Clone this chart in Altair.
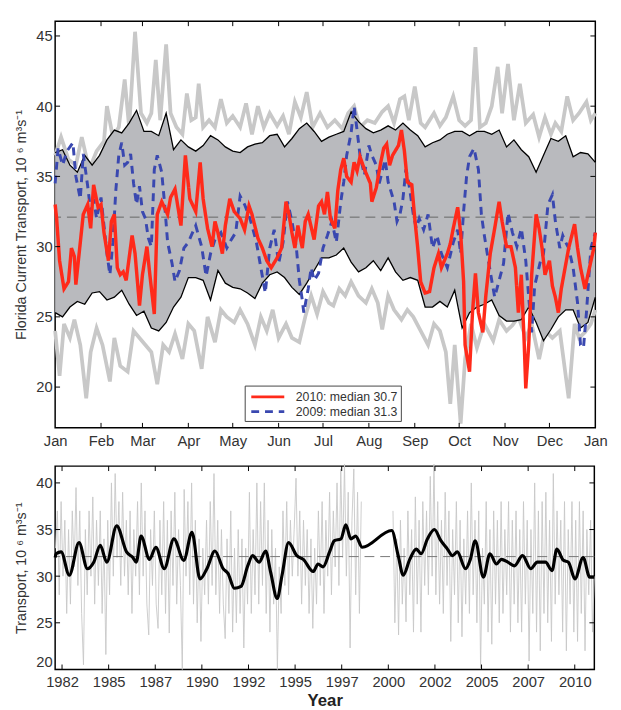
import altair as alt
import pandas as pd

# ---------------- axis / label data ----------------
MONTH_LABELS = ["Jan", "Feb", "Mar", "Apr", "May", "Jun", "Jul", "Aug", "Sep", "Oct", "Nov", "Dec", "Jan"]
MONTH_STARTS = [0, 31, 59, 90, 120, 151, 181, 212, 243, 273, 304, 334, 365]
TOP_YTICKS = [20, 25, 30, 35, 40, 45]
BOTTOM_YTICKS = [20, 25, 30, 35, 40]
YEAR_TICKS = [1982.5, 1985, 1987.5, 1990, 1992.5, 1995, 1997.5, 2000, 2002.5, 2005, 2007.5, 2010]

S2010 = "2010: median 30.7"
S2009 = "2009: median 31.3"
LONGTERM_MEAN = 32.1

# ---------------- top panel: climatology (day of year) ----------------
BAND_DAYS = [0, 5, 10, 15, 20, 25, 30, 35, 40, 45, 50, 55, 60, 65, 70, 75, 80, 85, 90, 95,
             100, 105, 110, 115, 120, 125, 130, 135, 140, 145, 150, 155, 160, 165, 170, 175,
             180, 185, 190, 195, 200, 205, 210, 215, 220, 225, 230, 235, 240, 245, 250, 255,
             260, 265, 270, 275, 280, 285, 290, 295, 300, 305, 310, 315, 320, 325, 330, 335,
             340, 345, 350, 355, 360, 365]
UPPER_STD = [36.7, 36.9, 35.8, 35.3, 36.5, 35.8, 36.5, 37.6, 38.3, 38.1,
             38.8, 39.7, 38.2, 38.2, 37.9, 39.5, 36.9, 37.6, 37.1, 36.8,
             37.2, 37.9, 37.6, 37.1, 36.8, 36.7, 37.1, 37.3, 37.4, 37.9,
             38.0, 37.1, 37.7, 38.4, 38.8, 38.2, 37.5, 37.8, 38.0, 38.2,
             39.6, 38.9, 38.4, 38.1, 38.3, 38.6, 38.3, 38.8, 38.3, 37.9,
             37.1, 37.4, 37.6, 38.0, 38.2, 38.2, 37.9, 38.2, 38.2, 38.0,
             38.3, 37.1, 37.6, 36.9, 36.4, 35.3, 36.5, 37.7, 37.5, 37.9,
             36.4, 36.7, 36.6, 36.0]
LOWER_STD = [25.3, 25.0, 25.7, 26.1, 25.9, 26.7, 26.8, 26.2, 26.4, 26.9,
             25.9, 25.1, 25.4, 24.2, 24.0, 24.6, 25.7, 26.4, 27.8, 27.8,
             27.6, 26.2, 28.3, 27.4, 27.1, 27.0, 26.7, 26.3, 27.4, 28.0,
             28.2, 27.8, 27.1, 26.6, 27.4, 28.3, 29.2, 29.2, 29.4, 29.9,
             28.9, 28.2, 28.5, 29.0, 28.3, 29.2, 28.2, 27.6, 27.8, 27.6,
             25.7, 25.7, 26.1, 25.7, 26.9, 24.2, 25.3, 25.7, 25.9, 26.2,
             25.1, 24.7, 24.7, 24.8, 25.7, 24.6, 23.3, 24.1, 25.0, 25.5,
             25.5, 24.2, 24.6, 26.4]

DAILY_MAX = [(0, 36.5), (4, 37.8), (9, 36.2), (14, 35.8), (18, 37.8), (23, 35.5), (28, 36.8),
             (33, 37.5), (35, 40.0), (39, 37.8), (43, 38.5), (47, 41.9), (50, 38.5), (54, 45.3),
             (58, 39.5), (62, 38.8), (65, 39.5), (68, 43.3), (71, 39.0), (75, 44.4), (78, 39.5),
             (82, 38.5), (86, 38.0), (89, 40.9), (92, 39.0), (95, 39.2), (97, 41.6), (100, 38.5),
             (104, 39.0), (108, 38.5), (112, 40.5), (116, 38.8), (120, 39.3), (125, 38.5),
             (129, 40.2), (133, 38.0), (137, 40.0), (141, 38.5), (145, 39.5), (150, 38.6),
             (154, 39.3), (158, 38.0), (162, 40.3), (166, 39.2), (170, 41.0), (174, 38.5),
             (179, 39.5), (184, 38.5), (189, 39.0), (194, 38.4), (198, 39.5), (202, 40.0),
             (206, 38.5), (211, 39.0), (216, 38.8), (221, 39.6), (225, 40.0), (229, 38.8),
             (233, 40.5), (236, 40.7), (239, 39.0), (243, 41.4), (247, 38.8), (250, 38.5),
             (256, 39.5), (260, 38.6), (264, 39.2), (269, 40.7), (273, 39.0), (277, 38.6),
             (281, 39.0), (284, 44.2), (287, 38.5), (291, 38.8), (295, 40.0), (299, 42.8),
             (302, 39.5), (306, 43.0), (310, 39.0), (314, 41.6), (318, 38.8), (323, 39.4),
             (327, 37.8), (331, 39.2), (335, 38.0), (338, 38.8), (342, 38.2), (346, 40.7),
             (350, 39.0), (354, 39.5), (359, 40.3), (362, 39.0), (365, 39.5)]

DAILY_MIN = [(0, 24.0), (3, 20.8), (6, 24.5), (10, 23.5), (13, 24.8), (17, 23.0), (21, 19.2),
             (24, 22.5), (28, 24.2), (32, 23.0), (37, 20.4), (40, 23.5), (44, 21.5), (49, 21.1),
             (53, 24.0), (57, 23.5), (61, 23.0), (65, 22.5), (69, 20.2), (73, 23.0), (77, 22.5),
             (81, 23.8), (86, 22.0), (90, 24.5), (94, 24.0), (99, 21.3), (103, 25.0), (108, 23.2),
             (112, 25.5), (116, 25.0), (121, 24.6), (125, 25.5), (130, 24.5), (135, 23.0),
             (139, 25.0), (143, 24.0), (147, 25.5), (151, 23.5), (156, 24.5), (160, 23.5),
             (165, 23.2), (169, 25.0), (173, 26.5), (177, 25.2), (181, 26.8), (185, 26.0),
             (188, 25.8), (192, 27.0), (196, 26.5), (200, 27.5), (205, 26.5), (210, 26.0),
             (214, 27.0), (218, 26.0), (221, 24.1), (225, 26.5), (229, 25.5), (234, 24.8),
             (238, 25.5), (242, 25.0), (247, 24.0), (252, 23.0), (256, 24.5), (260, 24.0),
             (264, 22.5), (267, 18.8), (270, 23.0), (274, 17.4), (277, 22.0), (281, 24.5),
             (285, 22.8), (290, 24.5), (296, 23.3), (300, 24.8), (305, 24.0), (309, 24.4),
             (313, 25.0), (318, 23.5), (322, 24.5), (327, 22.0), (331, 24.0), (336, 23.5),
             (341, 24.0), (347, 19.2), (351, 24.5), (354, 23.5), (358, 23.9), (362, 24.5),
             (365, 25.5)]

Y2010 = [(0, 33.0), (1, 32.0), (3, 29.0), (6, 27.0), (9, 27.5), (11, 29.9), (13, 29.3), (14, 27.3),
         (17, 30.3), (19, 32.3), (22, 33.0), (24, 31.3), (26, 34.4), (29, 32.8), (31, 33.0),
         (33, 31.0), (36, 29.0), (38, 31.8), (40, 32.3), (42, 28.5), (44, 28.0), (46, 28.2),
         (48, 27.6), (52, 30.8), (54, 29.5), (57, 25.8), (59, 28.0), (62, 30.0), (64, 28.0),
         (67, 25.2), (69, 32.3), (72, 33.2), (76, 32.3), (78, 33.5), (81, 34.1), (85, 31.5),
         (88, 36.5), (91, 33.4), (95, 32.5), (98, 36.0), (100, 33.4), (103, 31.3), (106, 30.0),
         (108, 31.8), (110, 31.0), (113, 29.5), (115, 31.5), (118, 33.4), (121, 32.5),
         (125, 32.0), (128, 31.2), (131, 32.9), (133, 32.3), (137, 30.6), (140, 29.9),
         (143, 29.0), (146, 28.5), (150, 29.2), (153, 29.9), (156, 33.2), (158, 32.3),
         (160, 31.0), (162, 29.9), (164, 31.5), (167, 29.9), (169, 31.8), (171, 32.3),
         (173, 31.4), (175, 30.5), (178, 32.9), (180, 33.2), (182, 32.3), (184, 33.9),
         (186, 32.0), (189, 31.3), (191, 34.0), (193, 35.5), (195, 36.3), (197, 35.0),
         (200, 34.6), (202, 36.0), (204, 35.4), (206, 36.4), (209, 35.5), (213, 34.5),
         (214, 33.2), (217, 34.2), (220, 36.0), (222, 37.0), (224, 37.3), (226, 35.8),
         (228, 36.5), (232, 37.2), (234, 38.3), (236, 36.8), (238, 34.6), (241, 34.4),
         (243, 32.0), (245, 29.9), (247, 27.5), (250, 26.7), (253, 26.8), (256, 28.5),
         (259, 29.5), (261, 28.5), (263, 29.0), (265, 29.5), (267, 30.2), (269, 31.3),
         (272, 32.8), (274, 31.0), (276, 27.5), (277, 23.0), (280, 21.1), (282, 25.3),
         (284, 28.1), (286, 25.3), (289, 23.9), (291, 26.5), (294, 29.5), (297, 31.3),
         (300, 33.2), (302, 31.8), (305, 30.0), (308, 30.0), (311, 28.5), (313, 25.3),
         (315, 28.0), (317, 23.0), (318, 19.9), (320, 23.0), (322, 28.0), (325, 32.3),
         (327, 31.3), (329, 29.9), (331, 28.0), (334, 29.0), (336, 27.2), (338, 26.4),
         (340, 25.3), (342, 27.0), (347, 29.9), (351, 31.6), (353, 29.9), (355, 28.5),
         (358, 27.0), (360, 28.0), (364, 29.9), (365, 31.0)]

Y2009 = [(0, 34.5), (2, 37.0), (5, 35.8), (8, 36.8), (12, 37.4), (14, 35.0), (17, 33.4), (19, 36.6),
         (22, 34.3), (24, 32.5), (26, 33.4), (28, 32.0), (31, 33.5), (33, 31.5), (35, 29.5),
         (37, 28.0), (39, 30.3), (41, 34.0), (43, 36.5), (45, 37.4), (47, 35.8), (49, 36.0),
         (51, 36.6), (53, 34.5), (55, 33.0), (57, 34.3), (59, 32.5), (61, 32.0), (63, 30.6),
         (65, 30.0), (67, 35.5), (69, 36.5), (72, 35.3), (74, 33.0), (76, 30.3), (79, 28.8),
         (81, 27.5), (84, 28.3), (87, 29.9), (90, 30.3), (92, 30.8), (95, 31.5), (99, 30.0),
         (102, 27.9), (105, 29.5), (108, 30.5), (112, 31.0), (116, 29.9), (119, 30.5),
         (122, 31.0), (125, 33.6), (128, 33.0), (131, 32.2), (133, 31.5), (136, 30.3),
         (139, 28.5), (142, 26.7), (145, 29.9), (148, 31.2), (151, 28.8), (154, 30.3),
         (157, 33.2), (160, 31.8), (163, 29.9), (165, 27.6), (167, 26.2), (168, 25.3),
         (171, 27.0), (173, 28.5), (175, 27.6), (178, 28.1), (181, 29.9), (184, 30.8),
         (187, 31.8), (190, 30.3), (193, 33.2), (195, 34.6), (197, 36.5), (200, 38.1),
         (202, 40.0), (204, 38.3), (206, 36.5), (209, 35.1), (212, 37.2), (214, 36.5),
         (217, 35.8), (219, 34.5), (223, 36.2), (225, 34.6), (229, 33.2), (231, 31.8),
         (233, 32.3), (235, 33.4), (237, 35.5), (239, 34.5), (242, 32.3), (244, 31.3),
         (246, 32.0), (249, 31.2), (252, 32.3), (255, 29.9), (258, 30.8), (261, 29.5),
         (265, 28.5), (269, 30.3), (272, 31.2), (274, 29.5), (276, 32.5), (278, 35.0),
         (280, 36.4), (283, 37.0), (286, 35.5), (288, 32.3), (290, 30.8), (292, 29.5),
         (295, 27.6), (297, 26.4), (300, 27.6), (303, 28.8), (306, 32.4), (309, 31.0),
         (312, 30.0), (315, 31.3), (318, 29.0), (320, 26.4), (322, 23.9), (324, 27.2),
         (326, 28.1), (328, 29.0), (330, 29.5), (333, 33.0), (336, 33.7), (338, 31.8),
         (341, 29.9), (343, 30.8), (345, 30.3), (347, 29.9), (350, 28.5), (353, 26.0),
         (355, 23.0), (357, 22.8), (359, 25.3), (362, 29.9), (365, 31.0)]

# ---------------- bottom panel: long record ----------------
GREY_A_START = 1982.15   # sampled every 0.1 yr
GREY_A = [33, 37, 28, 38, 30, 36, 26, 35, 27, 37,
          31, 39.5, 29, 37, 26, 20.5, 35, 28, 37, 30,
          38.5, 27, 36, 29, 37, 26, 34, 21.6, 36, 28,
          40, 30, 41, 32, 38, 29, 39, 30, 36, 28,
          37, 26, 35, 30, 38, 28, 40, 30, 37, 27,
          23.7, 35, 29, 37, 27, 24.4, 36, 28, 38, 26,
          36, 23.9, 37, 29, 39, 27, 35, 29, 20, 39.3,
          30, 38, 28, 40, 27, 36, 25, 34, 23, 33,
          28, 36, 27, 38, 29, 41, 28, 36, 26, 35,
          27, 23.3, 34, 26, 37, 24, 33, 25, 35, 26,
          34, 22.3, 33, 27, 39, 26, 35, 28, 40, 27,
          38, 29, 40, 26, 36, 24, 35, 27, 33, 20,
          31, 26, 37, 29, 38, 28, 36, 30, 35, 40.5,
          30, 37, 27, 36, 29, 35, 26, 34, 24.4, 33,
          27, 37, 29, 38, 26, 36, 30, 39, 28, 37,
          31, 40, 29, 41.5, 32, 42, 30, 39, 22.3, 36,
          41.5, 28, 39, 26, 38]
GREY_B_START = 2000.25
GREY_B = [37, 25, 34, 23.7, 36, 27, 33, 25.1, 37, 28,
          35, 24, 38.5, 27, 36, 24, 38, 29, 37, 28,
          40.7, 30, 42, 28, 38, 27, 36, 26, 39, 29,
          37, 23, 35, 28, 38, 25, 36, 23.5, 34, 27,
          37, 26, 40, 28, 36, 25, 37, 20.1, 33, 27,
          38, 24, 35, 22.7, 37, 27, 36, 25, 38, 26,
          35, 28, 38, 24, 36, 27, 37, 25, 35, 24,
          38, 27, 36, 20.9, 35, 26, 40, 24, 37, 22,
          38, 26, 39, 25, 36, 23, 41, 27, 37, 28,
          36, 24, 38, 22, 35, 27, 38, 24, 36, 23,
          38, 26, 37, 22, 35, 28, 36, 24, 30]

SMOOTHED = [(1982.13, 32.0), (1982.18, 32.4), (1982.45, 32.6), (1982.89, 30.1), (1983.41, 33.6),
            (1983.86, 30.8), (1984.2, 31.5), (1984.55, 33.3), (1984.9, 31.5), (1985.43, 35.4),
            (1985.96, 32.6), (1986.3, 32.0), (1986.48, 31.5), (1986.74, 34.3), (1987.19, 31.8),
            (1987.53, 33.1), (1987.98, 30.8), (1988.5, 34.0), (1989.03, 31.7), (1989.47, 34.7),
            (1989.9, 29.7), (1990.27, 30.8), (1990.7, 32.7), (1991.14, 30.8), (1991.4, 30.3),
            (1991.75, 28.7), (1992.1, 28.9), (1992.46, 31.1), (1992.72, 32.2), (1993.07, 31.5),
            (1993.42, 32.7), (1993.69, 30.4), (1994.04, 27.6), (1994.3, 30.1), (1994.65, 33.6),
            (1995.09, 32.2), (1995.44, 31.8), (1995.97, 30.5), (1996.23, 31.3), (1996.5, 31.0),
            (1996.85, 32.6), (1997.11, 33.8), (1997.46, 34.0), (1997.72, 35.5), (1997.99, 34.0),
            (1998.25, 34.3), (1998.6, 33.1), (2000.18, 34.9), (2000.53, 32.2), (2000.8, 30.1),
            (2001.15, 31.8), (2001.5, 32.9), (2001.76, 32.4), (2002.1, 34.0), (2002.47, 35.0),
            (2002.82, 33.8), (2003.17, 32.9), (2003.44, 32.2), (2003.7, 32.6), (2004.14, 30.8),
            (2004.4, 31.8), (2004.66, 33.8), (2005.1, 29.9), (2005.45, 32.4), (2005.8, 31.3),
            (2006.06, 31.8), (2006.41, 31.5), (2006.76, 31.1), (2007.2, 32.2), (2007.64, 30.8),
            (2007.99, 31.5), (2008.43, 31.5), (2008.78, 30.6), (2009.04, 32.9), (2009.39, 31.7),
            (2009.66, 31.5), (2010.01, 29.7), (2010.45, 32.0), (2010.8, 29.9), (2011.05, 29.9)]

# ---------------- styling ----------------
FONT = "Liberation Sans"
TXT = "#333333"
W_TOP, H_TOP = 550, 414
W_BOT, H_BOT = 549, 207
TICK = 5

# ---------------- build tables ----------------
band_df = pd.DataFrame({"day": BAND_DAYS, "val": LOWER_STD, "hi": UPPER_STD})
std_df = pd.concat([
    pd.DataFrame({"day": BAND_DAYS, "val": UPPER_STD, "s": "upper"}),
    pd.DataFrame({"day": BAND_DAYS, "val": LOWER_STD, "s": "lower"}),
])
ext_df = pd.concat([
    pd.DataFrame(DAILY_MAX, columns=["day", "val"]).assign(s="max"),
    pd.DataFrame(DAILY_MIN, columns=["day", "val"]).assign(s="min"),
])
y10 = pd.DataFrame(Y2010, columns=["day", "val"]).assign(series=S2010)
y09 = pd.DataFrame(Y2009, columns=["day", "val"]).assign(series=S2009)

month_tick_df = pd.DataFrame({"day": MONTH_STARTS[1:-1]})
top_ytick_df = pd.DataFrame({"val": TOP_YTICKS})
mean_df = pd.DataFrame({"val": [LONGTERM_MEAN]})

month_expr = "{}[indexof({}, datum.value)]".format(
    "[" + ",".join("'%s'" % m for m in MONTH_LABELS) + "]",
    "[" + ",".join(str(d) for d in MONTH_STARTS) + "]")

AX = dict(labelFont=FONT, labelFontSize=15, labelColor=TXT, titleFont=FONT,
          grid=False, ticks=False, domain=False, labelOverlap=False)

TOP_YSCALE = alt.Scale(domain=[17.1, 46.05], nice=False, zero=False)
X_TOP = alt.X("day:Q", scale=alt.Scale(domain=[0, 365], nice=False, zero=False),
              axis=alt.Axis(values=MONTH_STARTS, labelExpr=month_expr, title=None,
                            labelPadding=6, labelFlush=False, **AX))
Y_TOP = alt.Y("val:Q", scale=TOP_YSCALE,
              axis=alt.Axis(values=TOP_YTICKS, title="Florida Current Transport, 10 \u2076 m\u00b3s\u207b\u00b9",
                            titleFontSize=14.5, titleColor=TXT, titleFontWeight="normal",
                            labelPadding=3, titlePadding=7, labelFlush=False, **AX))

extremes = alt.Chart(ext_df).mark_line(color="#c8c8c8", strokeWidth=3.8).encode(
    x=X_TOP, y=Y_TOP, detail="s:N")
band = alt.Chart(band_df).mark_area(color="#b9babe", opacity=1).encode(
    x=X_TOP, y=Y_TOP, y2="hi:Q")
stdlines = alt.Chart(std_df).mark_line(color="black", strokeWidth=1.3).encode(
    x=X_TOP, y=Y_TOP, detail="s:N")
mean_top = alt.Chart(mean_df).mark_rule(color="#666666", strokeWidth=1, strokeDash=[10, 6]).encode(y=Y_TOP)

color_scale = alt.Scale(domain=[S2010, S2009], range=["#ff2a1a", "#3a48b0"])
dash_scale = alt.Scale(domain=[S2010, S2009], range=[[1, 0], [8, 6]])
leg = alt.Legend(title=None, orient="none", legendX=193, legendY=371,
                 symbolType="M-2.4,0L2.4,0", symbolSize=196, symbolStrokeWidth=3,
                 symbolOffset=12, labelOffset=20,
                 labelFont=FONT, labelFontSize=12.5, labelColor=TXT,
                 strokeColor="#444444", fillColor="white", padding=3, rowPadding=0,
                 labelLimit=200)
blue = alt.Chart(y09).mark_line(strokeWidth=3).encode(
    x=X_TOP, y=Y_TOP,
    color=alt.Color("series:N", scale=color_scale, legend=leg),
    strokeDash=alt.StrokeDash("series:N", scale=dash_scale, legend=leg))
red = alt.Chart(y10).mark_line(strokeWidth=3.5).encode(
    x=X_TOP, y=Y_TOP,
    color=alt.Color("series:N", scale=color_scale, legend=leg),
    strokeDash=alt.StrokeDash("series:N", scale=dash_scale, legend=leg))

tk_top_b = alt.Chart(month_tick_df).mark_rule(color="black", strokeWidth=1).encode(
    x=X_TOP, y=alt.value(H_TOP), y2=alt.value(H_TOP - TICK))
tk_top_t = alt.Chart(month_tick_df).mark_rule(color="black", strokeWidth=1).encode(
    x=X_TOP, y=alt.value(0), y2=alt.value(TICK))
tk_top_l = alt.Chart(top_ytick_df).mark_rule(color="black", strokeWidth=1).encode(
    y=Y_TOP, x=alt.value(0), x2=alt.value(TICK))
tk_top_r = alt.Chart(top_ytick_df).mark_rule(color="black", strokeWidth=1).encode(
    y=Y_TOP, x=alt.value(W_TOP - TICK), x2=alt.value(W_TOP))

top = alt.layer(extremes, band, stdlines, mean_top, blue, red,
                tk_top_b, tk_top_t, tk_top_l, tk_top_r).properties(width=W_TOP, height=H_TOP)

# bottom panel
grey_df = pd.concat([
    pd.DataFrame({"yr": [GREY_A_START + 0.1 * i for i in range(len(GREY_A))], "val": GREY_A, "seg": "a"}),
    pd.DataFrame({"yr": [GREY_B_START + 0.1 * i for i in range(len(GREY_B))], "val": GREY_B, "seg": "b"}),
])
smooth_df = pd.DataFrame(SMOOTHED, columns=["yr", "val"])
year_tick_df = pd.DataFrame({"yr": YEAR_TICKS})
bot_ytick_df = pd.DataFrame({"val": BOTTOM_YTICKS})

X_BOT = alt.X("yr:Q", scale=alt.Scale(domain=[1982.13, 2011.05], nice=False, zero=False),
              axis=alt.Axis(values=YEAR_TICKS, labelExpr="'' + floor(datum.value)", title="Year",
                            titleFontWeight="bold", titleFontSize=17, titleColor="#222222",
                            labelPadding=5, titlePadding=4, labelFlush=False, **AX))
Y_BOT = alt.Y("val:Q", scale=alt.Scale(domain=[20, 41.8], nice=False, zero=False),
              axis=alt.Axis(values=BOTTOM_YTICKS, title="Transport, 10 \u2076 m\u00b3s\u207b\u00b9",
                            titleFontSize=14.5, titleColor=TXT, titleFontWeight="normal",
                            labelPadding=3, titlePadding=7, labelFlush=True, **AX))

grey = alt.Chart(grey_df).mark_line(color="#c8c8c8", strokeWidth=0.9).encode(
    x=X_BOT, y=Y_BOT, detail="seg:N")
mean_bot = alt.Chart(mean_df).mark_rule(color="#777777", strokeWidth=1, strokeDash=[10, 6]).encode(y=Y_BOT)
smooth = alt.Chart(smooth_df).mark_line(color="black", strokeWidth=3.2, interpolate="monotone").encode(
    x=X_BOT, y=Y_BOT)
tk_b_b = alt.Chart(year_tick_df).mark_rule(color="black", strokeWidth=1).encode(
    x=X_BOT, y=alt.value(H_BOT), y2=alt.value(H_BOT - TICK))
tk_b_t = alt.Chart(year_tick_df).mark_rule(color="black", strokeWidth=1).encode(
    x=X_BOT, y=alt.value(0), y2=alt.value(TICK))
tk_b_l = alt.Chart(bot_ytick_df).mark_rule(color="black", strokeWidth=1).encode(
    y=Y_BOT, x=alt.value(0), x2=alt.value(TICK))
tk_b_r = alt.Chart(bot_ytick_df).mark_rule(color="black", strokeWidth=1).encode(
    y=Y_BOT, x=alt.value(W_BOT - TICK), x2=alt.value(W_BOT))

bottom = alt.layer(grey, mean_bot, smooth, tk_b_b, tk_b_t, tk_b_l, tk_b_r).properties(
    width=W_BOT, height=H_BOT)

chart = (
    alt.vconcat(top, bottom, spacing=12, background="white",
                padding={"left": 5, "top": 5, "right": 5, "bottom": 2})
    .resolve_scale(color="independent", strokeDash="independent")
    .configure_view(stroke="black", strokeWidth=1.5)
)

chart.save("out.html", embed_options={"renderer": "svg", "actions": False})
